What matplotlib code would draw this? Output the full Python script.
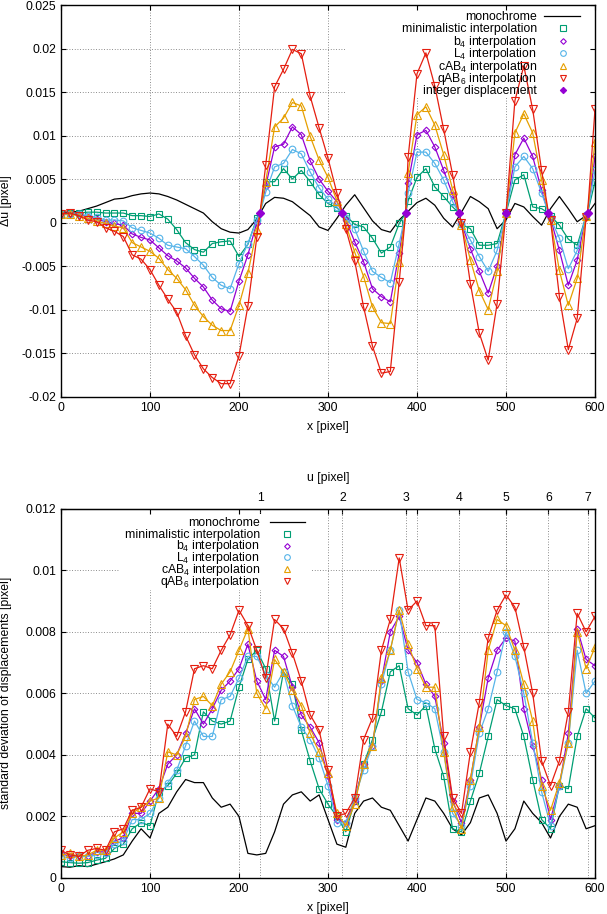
import numpy as np
import matplotlib
matplotlib.use('Agg')
import matplotlib.pyplot as plt
from matplotlib.patches import Rectangle
from matplotlib.ticker import FuncFormatter

plt.rcParams['font.family'] = ['Liberation Sans', 'DejaVu Sans']
plt.rcParams['mathtext.fontset'] = 'custom'
plt.rcParams['mathtext.rm'] = 'Liberation Sans'
plt.rcParams['mathtext.it'] = 'Liberation Sans:italic'
plt.rcParams['font.size'] = 8.8

# ---------------- data ----------------
x_pos = np.arange(0, 601, 10)

# displacement field u = U_COEF * x^2  (top axis of lower panel)
U_COEF = 2e-5
u_ticks = [1, 2, 3, 4, 5, 6, 7]
int_disp_val = [0.0011, 0.0011, 0.0011, 0.0011, 0.0011, 0.0011, 0.0011]

labels = ["monochrome", "minimalistic interpolation", "b$_4$ interpolation",
          "L$_4$ interpolation", "cAB$_4$ interpolation", "qAB$_6$ interpolation",
          "integer displacement"]

# top panel: delta u
mono_top = [0.0012, 0.0012, 0.0013, 0.0016, 0.0019, 0.0023, 0.0027, 0.0028, 0.0031, 0.0033,
            0.0034, 0.0033, 0.0030, 0.0026, 0.0021, 0.0016, 0.0011, 0.0001, -0.0007, -0.0011,
            -0.0012, -0.0008, 0.0004, 0.0022, 0.0029, 0.0028, 0.0024, 0.0016, 0.0008, -0.0005,
            -0.0009, 0.0005, 0.0020, 0.0032, 0.0017, 0.0002, -0.0008, -0.0011, 0.0003, 0.0013,
            0.0023, 0.0028, 0.0020, 0.0005, -0.0005, 0.0012, 0.0030, 0.0024, 0.0016, -0.0007,
            0.0003, 0.0022, 0.0018, 0.0007, -0.0003, 0.0016, 0.0030, 0.0016, 0.0001, 0.0008,
            0.0022]
mini_top = [0.0010, 0.0011, 0.0011, 0.0012, 0.0012, 0.0011, 0.0011, 0.0011, 0.0008, 0.0008,
            0.0007, 0.0010, 0.0004, -0.0008, -0.0023, -0.0031, -0.0034, -0.0024, -0.0022, -0.0021,
            -0.0039, -0.0025, 0.0005, 0.0047, 0.0047, 0.0062, 0.0050, 0.0060, 0.0047, 0.0032,
            0.0022, 0.0017, 0.0008, -0.0002, -0.0005, -0.0018, -0.0035, -0.0028, -0.0001, 0.0025,
            0.0052, 0.0062, 0.0041, 0.0030, 0.0018, -0.0002, -0.0007, -0.0026, -0.0026, -0.0024,
            0.0011, 0.0049, 0.0055, 0.0018, 0.0016, 0.0008, -0.0003, -0.0019, -0.0026, 0.0008,
            0.0047]
b4_top = [0.0010, 0.0010, 0.0009, 0.0007, 0.0004, 0.0001, -0.0001, -0.0003, -0.0013, -0.0017,
          -0.0020, -0.0029, -0.0038, -0.0044, -0.0052, -0.0064, -0.0074, -0.0089, -0.0099, -0.0102,
          -0.0067, -0.0037, 0.0000, 0.0042, 0.0087, 0.0090, 0.0110, 0.0101, 0.0071, 0.0050,
          0.0036, 0.0024, 0.0003, -0.0022, -0.0045, -0.0076, -0.0085, -0.0091, -0.0035, 0.0045,
          0.0101, 0.0106, 0.0087, 0.0060, 0.0032, -0.0001, -0.0030, -0.0056, -0.0081, -0.0050,
          0.0011, 0.0078, 0.0097, 0.0076, 0.0037, 0.0005, -0.0032, -0.0072, -0.0043, 0.0009,
          0.0076]
l4_top = [0.0010, 0.0010, 0.0010, 0.0008, 0.0006, 0.0003, 0.0003, 0.0002, -0.0006, -0.0009,
          -0.0012, -0.0018, -0.0026, -0.0028, -0.0030, -0.0039, -0.0049, -0.0063, -0.0072, -0.0076,
          -0.0047, -0.0024, 0.0003, 0.0035, 0.0064, 0.0068, 0.0084, 0.0079, 0.0058, 0.0040,
          0.0027, 0.0018, 0.0005, -0.0007, -0.0033, -0.0056, -0.0063, -0.0069, -0.0024, 0.0034,
          0.0081, 0.0081, 0.0068, 0.0049, 0.0024, -0.0002, -0.0020, -0.0039, -0.0056, -0.0032,
          0.0011, 0.0064, 0.0076, 0.0062, 0.0034, 0.0005, -0.0018, -0.0053, -0.0032, 0.0009,
          0.0060]
cab4_top = [0.0010, 0.0010, 0.0008, 0.0005, 0.0002, -0.0001, -0.0004, -0.0006, -0.0023, -0.0028,
            -0.0033, -0.0041, -0.0054, -0.0064, -0.0077, -0.0095, -0.0108, -0.0118, -0.0124, -0.0124,
            -0.0095, -0.0058, -0.0009, 0.0047, 0.0110, 0.0120, 0.0138, 0.0134, 0.0099, 0.0072,
            0.0052, 0.0025, -0.0002, -0.0034, -0.0062, -0.0097, -0.0115, -0.0116, -0.0045, 0.0057,
            0.0124, 0.0133, 0.0112, 0.0078, 0.0038, -0.0003, -0.0043, -0.0078, -0.0100, -0.0056,
            0.0011, 0.0103, 0.0125, 0.0103, 0.0049, 0.0003, -0.0055, -0.0095, -0.0064, 0.0008,
            0.0093]
qab6_top = [0.0010, 0.0011, 0.0008, 0.0003, 0.0001, -0.0006, -0.0010, -0.0016, -0.0037, -0.0042,
            -0.0054, -0.0072, -0.0088, -0.0103, -0.0130, -0.0152, -0.0168, -0.0178, -0.0185, -0.0185,
            -0.0153, -0.0096, -0.0017, 0.0066, 0.0156, 0.0176, 0.0199, 0.0194, 0.0145, 0.0109,
            0.0074, 0.0034, -0.0007, -0.0044, -0.0097, -0.0142, -0.0173, -0.0171, -0.0068, 0.0075,
            0.0171, 0.0195, 0.0157, 0.0107, 0.0055, 0.0000, -0.0070, -0.0127, -0.0158, -0.0093,
            0.0011, 0.0140, 0.0180, 0.0130, 0.0060, 0.0003, -0.0085, -0.0146, -0.0110, 0.0006,
            0.0130]

# bottom panel: standard deviation of displacements
mono_bot = [0.00037, 0.00035, 0.0004, 0.00037, 0.00045, 0.00053, 0.00062, 0.00075, 0.0012, 0.0016,
            0.0013, 0.0021, 0.0023, 0.0028, 0.0032, 0.0031, 0.0031, 0.0026, 0.0023, 0.0024,
            0.0020, 0.0008, 0.00075, 0.0008, 0.0015, 0.0024, 0.0027, 0.0028, 0.0025, 0.0027,
            0.0019, 0.0011, 0.0010, 0.0021, 0.0025, 0.0026, 0.0023, 0.0022, 0.0017, 0.0012,
            0.0019, 0.0026, 0.0025, 0.0021, 0.0016, 0.0014, 0.0018, 0.0026, 0.0027, 0.0021,
            0.0012, 0.0016, 0.0025, 0.0021, 0.0018, 0.0013, 0.0020, 0.0024, 0.0023, 0.0016,
            0.0017]
mini_bot = [0.00053, 0.0005, 0.00048, 0.0005, 0.00058, 0.00064, 0.00096, 0.0011, 0.0016, 0.0018,
            0.0017, 0.0028, 0.0030, 0.0034, 0.0039, 0.0040, 0.0054, 0.0051, 0.0050, 0.0051,
            0.0062, 0.0071, 0.0074, 0.0068, 0.0051, 0.0067, 0.0063, 0.0048, 0.0038, 0.0029,
            0.0024, 0.0020, 0.0015, 0.0025, 0.0037, 0.0045, 0.0054, 0.0067, 0.0069, 0.0055,
            0.0053, 0.0056, 0.0042, 0.0033, 0.0016, 0.0015, 0.0025, 0.0034, 0.0046, 0.0058,
            0.0056, 0.0055, 0.0046, 0.0032, 0.0019, 0.0016, 0.0030, 0.0029, 0.0046, 0.0055,
            0.0052]
b4_bot = [0.0008, 0.0007, 0.00075, 0.0007, 0.00085, 0.00085, 0.0012, 0.0013, 0.0021, 0.0021,
          0.0025, 0.0029, 0.0037, 0.0040, 0.0047, 0.0055, 0.0050, 0.0055, 0.0061, 0.0064,
          0.0068, 0.0076, 0.0064, 0.0058, 0.0074, 0.0072, 0.0062, 0.0053, 0.0049, 0.0044,
          0.0033, 0.0019, 0.0018, 0.0025, 0.0037, 0.0043, 0.0064, 0.0080, 0.0085, 0.0074,
          0.0070, 0.0063, 0.0059, 0.0044, 0.0025, 0.0018, 0.0032, 0.0049, 0.0065, 0.0074,
          0.0078, 0.0077, 0.0055, 0.0043, 0.0032, 0.0019, 0.0030, 0.0047, 0.0081, 0.0071,
          0.0069]
l4_bot = [0.0007, 0.00065, 0.0007, 0.0007, 0.00075, 0.0008, 0.0011, 0.0012, 0.0019, 0.0019,
          0.0021, 0.0026, 0.0031, 0.0035, 0.0043, 0.0051, 0.0046, 0.0046, 0.0058, 0.0059,
          0.0065, 0.0072, 0.0072, 0.0066, 0.0062, 0.0067, 0.0056, 0.0049, 0.0045, 0.0039,
          0.0030, 0.0018, 0.0018, 0.0026, 0.0035, 0.0043, 0.0063, 0.0074, 0.0087, 0.0067,
          0.0058, 0.0057, 0.0055, 0.0041, 0.0021, 0.0017, 0.0030, 0.0047, 0.0055, 0.0067,
          0.0080, 0.0072, 0.0060, 0.0044, 0.0028, 0.0017, 0.0030, 0.0044, 0.0074, 0.0060,
          0.0064]
cab4_bot = [0.00075, 0.0008, 0.0007, 0.00075, 0.0009, 0.0009, 0.0013, 0.0015, 0.0021, 0.0023,
            0.0025, 0.0026, 0.0041, 0.0040, 0.0046, 0.0058, 0.0059, 0.0056, 0.0063, 0.0067,
            0.0074, 0.0081, 0.0060, 0.0055, 0.0071, 0.0067, 0.0061, 0.0056, 0.0047, 0.0041,
            0.0034, 0.0021, 0.0017, 0.0024, 0.0037, 0.0043, 0.0065, 0.0074, 0.0087, 0.0076,
            0.0068, 0.0062, 0.0062, 0.0041, 0.0023, 0.0016, 0.0032, 0.0049, 0.0074, 0.0084,
            0.0082, 0.0074, 0.0063, 0.0051, 0.0030, 0.0022, 0.0031, 0.0044, 0.0080, 0.0068,
            0.0075]
qab6_bot = [0.0009, 0.00075, 0.0007, 0.0009, 0.00096, 0.0009, 0.0015, 0.0016, 0.0022, 0.0023,
            0.0029, 0.0028, 0.0050, 0.0046, 0.0054, 0.0068, 0.0069, 0.0068, 0.0074, 0.0079,
            0.0087, 0.0082, 0.0074, 0.0065, 0.0084, 0.0081, 0.0073, 0.0064, 0.0053, 0.0048,
            0.0035, 0.0020, 0.0021, 0.0026, 0.0045, 0.0052, 0.0074, 0.0084, 0.0104, 0.0087,
            0.0090, 0.0082, 0.0082, 0.0046, 0.0026, 0.0021, 0.0041, 0.0057, 0.0078, 0.0087,
            0.0092, 0.0088, 0.0075, 0.0060, 0.0038, 0.0030, 0.0038, 0.0054, 0.0086, 0.0080,
            0.0085]

# ---------------- styles ----------------
GREEN = '#009e73'
PURPLE = '#9400d3'
CYAN = '#56b4e9'
ORANGE = '#e69f00'
RED = '#e51e10'

series = [
    (labels[1], mini_top, mini_bot, GREEN, 's', 4.6),
    (labels[2], b4_top, b4_bot, PURPLE, 'D', 3.4),
    (labels[3], l4_top, l4_bot, CYAN, 'o', 4.8),
    (labels[4], cab4_top, cab4_bot, ORANGE, '^', 5.2),
    (labels[5], qab6_top, qab6_bot, RED, 'v', 5.2),
]

W, H = 607, 914
fig = plt.figure(figsize=(W / 100, H / 100), dpi=100)

AX1 = (61, 5, 595, 396.7)      # left, top, right, bottom in pixels
AX2 = (61, 508.7, 595, 878)

def axes_rect(l, t, r, b):
    return [l / W, 1 - b / H, (r - l) / W, (b - t) / H]

def px_to_axes(box, px, py):
    l, t, r, b = box
    return (px - l) / (r - l), (b - py) / (b - t)

ax1 = fig.add_axes(axes_rect(*AX1))
ax2 = fig.add_axes(axes_rect(*AX2))

GRID_KW = dict(color='0.4', lw=0.6, ls=(0, (1, 2.2)), zorder=0.5)
LW = 0.9
MEW = 0.8

x_int = np.sqrt(np.array(u_ticks) / U_COEF)


def key(ax, box, entries, x_text, x_mark, x_line, y0, dy):
    """gnuplot-like key: right aligned text, sample to the right."""
    for i, (lab, kind, col, mk, ms) in enumerate(entries):
        yc = y0 + i * dy
        fx, fy = px_to_axes(box, x_text, yc + 4)
        ax.text(fx, fy, lab, transform=ax.transAxes, ha='right', va='baseline', zorder=4)
        _, fyc = px_to_axes(box, x_mark, yc)
        if kind == 'line':
            a, _ = px_to_axes(box, x_line[0], yc)
            b, _ = px_to_axes(box, x_line[1], yc)
            ax.plot([a, b], [fyc, fyc], transform=ax.transAxes, color=col, lw=LW,
                    clip_on=False, zorder=4)
        else:
            fm, _ = px_to_axes(box, x_mark, yc)
            filled = kind == 'filled'
            ax.plot([fm], [fyc], transform=ax.transAxes, ls='none', marker=mk,
                    mfc=col if filled else 'none', mec=col, ms=ms, mew=MEW,
                    clip_on=False, zorder=4)


# ---- top panel ----
ax1.plot(x_pos, mono_top, color='black', lw=LW, zorder=2)
far = np.min(np.abs(x_int[:, None] - x_pos[None, :]), axis=1) > 0.5
for lab, yt, yb, col, mk, ms in series:
    xl = np.concatenate([x_pos, x_int[far]])
    yl = np.concatenate([yt, np.array(int_disp_val)[far]])
    o = np.argsort(xl)
    ax1.plot(xl[o], yl[o], color=col, lw=LW, zorder=2)
    ax1.plot(x_pos, yt, ls='none', marker=mk, mfc='none', mec=col, ms=ms, mew=MEW, zorder=2)
ax1.plot(x_int, int_disp_val, ls='none', marker='D', color=PURPLE, ms=3.6, zorder=3)

ax1.set_xlim(0, 600)
ax1.set_ylim(-0.02, 0.025)
ax1.set_xticks(range(0, 601, 100))
yt1 = np.arange(-0.02, 0.02501, 0.005)
ax1.set_yticks(yt1)
ax1.yaxis.set_major_formatter(FuncFormatter(lambda v, p: '%g' % round(v, 4)))
for t in range(100, 600, 100):
    ax1.axvline(t, **GRID_KW)
for t in yt1[1:-1]:
    ax1.axhline(t, **GRID_KW)
ax1.add_patch(Rectangle((0.532, 0.765), 0.9906 - 0.532, 0.987 - 0.765,
                        transform=ax1.transAxes, fc='white', ec='none', zorder=1))
ax1.set_xlabel('x [pixel]', labelpad=5)
ax1.set_ylabel('Δu [pixel]')
ax1.yaxis.set_label_coords(-0.091, 0.5)

entries_top = [(labels[0], 'line', 'black', None, 0)]
for lab, yt, yb, col, mk, ms in series:
    entries_top.append((lab, 'open', col, mk, ms * 0.85))
entries_top.append((labels[6], 'filled', PURPLE, 'D', 3.2))
key(ax1, AX1, entries_top, 536.7, 563, (544, 580), 16, 12.4)

# ---- bottom panel ----
ax2.plot(x_pos, mono_bot, color='black', lw=LW, zorder=2)
for lab, yt, yb, col, mk, ms in series:
    ax2.plot(x_pos, yb, color=col, lw=LW, marker=mk, mfc='none', mec=col, ms=ms, mew=MEW, zorder=2)
ax2.set_xlim(0, 600)
ax2.set_ylim(0, 0.012)
ax2.set_xticks(range(0, 601, 100))
yt2 = np.arange(0, 0.01201, 0.002)
ax2.set_yticks(yt2)
ax2.yaxis.set_major_formatter(FuncFormatter(lambda v, p: '%g' % round(v, 4)))
for t in range(100, 600, 100):
    ax2.axvline(t, **GRID_KW)
for xv in x_int:
    ax2.axvline(xv, **GRID_KW)
for t in yt2[1:-1]:
    ax2.axhline(t, **GRID_KW)
ax2.add_patch(Rectangle((0.1105, 0.78), 0.47 - 0.1105, 0.986 - 0.78,
                        transform=ax2.transAxes, fc='white', ec='none', zorder=1))
ax2.set_xlabel('x [pixel]', labelpad=5)
ax2.set_ylabel('standard deviation of displacements [pixel]')
ax2.yaxis.set_label_coords(-0.091, 0.5)


def x_to_u(x):
    x = np.asarray(x, dtype=float)
    return np.sign(x) * U_COEF * x ** 2


def u_to_x(u):
    u = np.asarray(u, dtype=float)
    return np.sign(u) * np.sqrt(np.abs(u) / U_COEF)


sec = ax2.secondary_xaxis('top', functions=(x_to_u, u_to_x))
sec.set_xticks(u_ticks)
sec.tick_params(direction='in', length=3.6, width=0.8, pad=3.5)
sec.set_xlabel('u [pixel]', labelpad=8)

entries_bot = [(labels[0], 'line', 'black', None, 0)]
for lab, yt, yb, col, mk, ms in series:
    entries_bot.append((lab, 'open', col, mk, ms * 0.85))
key(ax2, AX2, entries_bot, 260, 287, (270, 305), 521.7, 11.9)

for ax in (ax1, ax2):
    ax.tick_params(direction='in', length=3.6, width=0.8, top=True, right=True, pad=3.5)
    for s in ax.spines.values():
        s.set_linewidth(1.0)
ax2.tick_params(labeltop=False)

fig.savefig('out.png', dpi=100)
